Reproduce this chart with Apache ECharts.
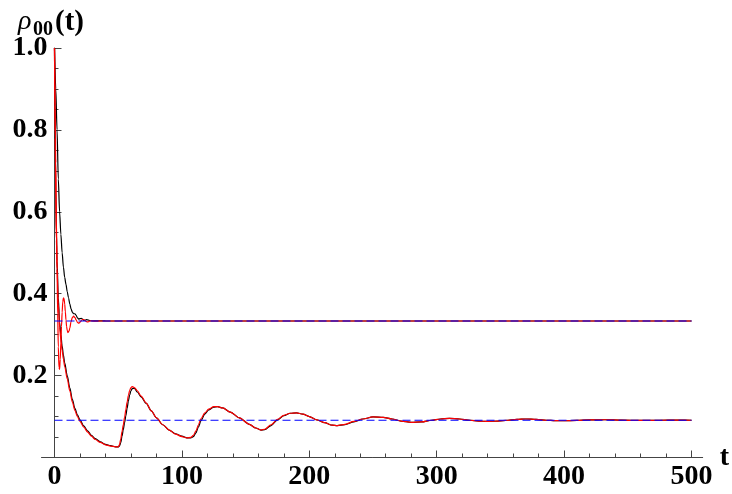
<!DOCTYPE html>
<html>
<head>
<meta charset="utf-8">
<script src="https://cdn.jsdelivr.net/npm/echarts@6/dist/echarts.min.js"></script>
<style>
  html, body { margin: 0; padding: 0; background: #fff; }
  #chart { width: 732px; height: 494px; }
</style>
</head>
<body>
<div id="chart"></div>
<script>
  // upper pair of curves (fast decay to 1/3)
  var tUpperBlack = [0, 1, 2, 3, 4, 5, 6, 7, 8, 9, 10, 11, 12, 13, 14, 15, 16, 17, 18, 19, 20, 21, 22, 23, 24, 25, 26, 28, 30, 34, 40, 500];
  var vUpperBlack = [1.0, 0.9, 0.8, 0.68, 0.6, 0.545, 0.5, 0.465, 0.44, 0.423, 0.405, 0.39, 0.375, 0.363, 0.355, 0.351, 0.351, 0.347, 0.341, 0.338, 0.339, 0.34, 0.338, 0.335, 0.335, 0.337, 0.336, 0.334, 0.3338, 0.3335, 0.3334, 0.3333];

  var tUpperRed = [0, 0.5, 1, 1.5, 2, 2.5, 3, 3.5, 4, 4.5, 5, 5.5, 6, 6.5, 7, 7.5, 8, 8.5, 9, 9.5, 10, 10.5, 11, 11.5, 12, 13, 14, 15, 16, 17, 18, 19, 20, 21, 22, 23, 24, 25, 26, 27, 28, 30, 32, 36, 500];
  var vUpperRed = [1.0, 0.86, 0.72, 0.58, 0.46, 0.35, 0.27, 0.22, 0.215, 0.24, 0.28, 0.32, 0.355, 0.38, 0.39, 0.388, 0.375, 0.356, 0.336, 0.32, 0.31, 0.305, 0.305, 0.309, 0.316, 0.332, 0.342, 0.345, 0.342, 0.336, 0.33, 0.328, 0.33, 0.334, 0.337, 0.337, 0.335, 0.332, 0.331, 0.332, 0.334, 0.3335, 0.333, 0.3333, 0.3333];

  // lower pair of curves (slow damped oscillation)
  var tLower = [0, 0.5, 1, 1.5, 2, 3, 4, 5, 6, 7, 8, 10, 12, 14, 16, 18, 20, 23, 26, 29, 32, 36, 40, 44, 48, 50, 51, 52, 53, 54, 55, 56, 57, 58, 59, 60, 61, 62, 63, 65, 68, 72, 76, 80, 85, 90, 95, 100, 104, 107, 109, 111, 113, 115, 118, 121, 125, 128, 132, 138, 145, 153, 158, 162, 165, 170, 175, 180, 185, 190, 195, 200, 206, 212, 218, 222, 228, 235, 242, 250, 258, 265, 272, 280, 288, 296, 303, 310, 318, 326, 333, 340, 348, 356, 363, 370, 378, 386, 393, 400, 410, 420, 432, 445, 460, 475, 490, 500];
  var vLowerBlack = [1.0, 0.8, 0.65, 0.55, 0.48, 0.39, 0.33, 0.3, 0.272, 0.25, 0.231, 0.2, 0.17, 0.142, 0.12, 0.104, 0.092, 0.077, 0.065, 0.054, 0.046, 0.038, 0.032, 0.029, 0.026, 0.026, 0.028, 0.036, 0.052, 0.068, 0.085, 0.102, 0.12, 0.138, 0.153, 0.163, 0.168, 0.169, 0.168, 0.16, 0.148, 0.132, 0.114, 0.097, 0.08, 0.067, 0.058, 0.052, 0.048, 0.048, 0.051, 0.06, 0.075, 0.09, 0.106, 0.116, 0.123, 0.124, 0.121, 0.111, 0.097, 0.081, 0.072, 0.067, 0.068, 0.078, 0.092, 0.102, 0.108, 0.109, 0.106, 0.1, 0.092, 0.085, 0.079, 0.078, 0.08, 0.087, 0.094, 0.099, 0.098, 0.094, 0.089, 0.086, 0.087, 0.091, 0.094, 0.0955, 0.094, 0.091, 0.089, 0.088, 0.089, 0.091, 0.093, 0.094, 0.093, 0.091, 0.09, 0.0898, 0.0905, 0.0918, 0.0922, 0.0912, 0.0905, 0.091, 0.0912, 0.091];
  var vLowerRed = [1.0, 0.78, 0.63, 0.53, 0.46, 0.375, 0.318, 0.288, 0.262, 0.24, 0.222, 0.192, 0.163, 0.136, 0.115, 0.1, 0.088, 0.074, 0.062, 0.052, 0.044, 0.037, 0.031, 0.028, 0.026, 0.026, 0.031, 0.045, 0.063, 0.08, 0.098, 0.117, 0.135, 0.152, 0.164, 0.171, 0.173, 0.172, 0.17, 0.163, 0.15, 0.133, 0.114, 0.097, 0.08, 0.067, 0.057, 0.051, 0.048, 0.049, 0.054, 0.065, 0.08, 0.095, 0.109, 0.118, 0.124, 0.124, 0.121, 0.111, 0.097, 0.081, 0.072, 0.067, 0.069, 0.08, 0.093, 0.103, 0.108, 0.109, 0.106, 0.1, 0.092, 0.085, 0.079, 0.078, 0.081, 0.088, 0.094, 0.099, 0.098, 0.094, 0.089, 0.086, 0.087, 0.091, 0.094, 0.0955, 0.094, 0.091, 0.089, 0.088, 0.089, 0.091, 0.093, 0.094, 0.093, 0.091, 0.09, 0.0898, 0.0905, 0.0918, 0.0922, 0.0912, 0.0905, 0.091, 0.0912, 0.091];

  // steady state levels (dashed)
  var tSteady = [0, 500];
  var vSteadyUpper = [0.3333, 0.3333];
  var vSteadyLower = [0.091, 0.091];

  var yTicks = [0, 0.2, 0.4, 0.6, 0.8, 1.0];
  var xTicks = [0, 100, 200, 300, 400, 500];

  function pairs(t, v) {
    return t.map(function (x, i) { return [x, v[i]]; });
  }

  var chart = echarts.init(document.getElementById('chart'));
  var axisColor = '#444';
  var serif = '"Liberation Serif", "DejaVu Serif", serif';

  function lineSeries(t, v, color, dashed) {
    return {
      type: 'line',
      xAxisIndex: 0,
      yAxisIndex: 0,
      data: pairs(t, v),
      showSymbol: false,
      smooth: dashed ? false : 0.3,
      smoothMonotone: 'x',
      silent: true,
      animation: false,
      lineStyle: { color: color, width: 1.2, type: dashed ? [8, 4] : 'solid' },
      z: dashed ? 5 : (color === '#ff0000' ? 4 : 3)
    };
  }

  var option = {
    animation: false,
    backgroundColor: '#fff',
    grid: [
      { left: 54.5, right: 40.5, top: 48, bottom: 36.5 },
      { left: 41.5, right: 28, top: 48, bottom: 36.5 }
    ],
    xAxis: [
      {
        gridIndex: 0,
        type: 'value',
        min: xTicks[0],
        max: xTicks[xTicks.length - 1],
        interval: 100,
        axisLine: { show: false },
        axisTick: { show: true, inside: true, length: 7, lineStyle: { color: axisColor } },
        minorTick: { show: true, splitNumber: 5, length: 4, lineStyle: { color: axisColor } },
        splitLine: { show: false },
        axisLabel: {
          margin: 5,
          fontFamily: serif, fontWeight: 'bold', fontSize: 28, color: '#000'
        }
      },
      {
        gridIndex: 1,
        type: 'value',
        min: 0,
        max: 1,
        axisLine: { show: true, lineStyle: { color: axisColor, width: 1 } },
        axisTick: { show: false },
        axisLabel: { show: false },
        splitLine: { show: false },
        name: 't',
        nameLocation: 'end',
        nameGap: 17,
        nameTextStyle: { fontFamily: serif, fontWeight: 'bold', fontSize: 28, color: '#000' }
      }
    ],
    yAxis: [
      {
        gridIndex: 0,
        type: 'value',
        min: yTicks[0],
        max: yTicks[yTicks.length - 1],
        interval: 0.2,
        axisLine: { show: true, lineStyle: { color: axisColor, width: 1 } },
        axisTick: { show: true, inside: true, length: 7, lineStyle: { color: axisColor } },
        minorTick: { show: true, splitNumber: 4, length: 4, lineStyle: { color: axisColor } },
        splitLine: { show: false },
        axisLabel: {
          margin: 7,
          showMinLabel: false,
          fontFamily: serif, fontWeight: 'bold', fontSize: 28, color: '#000',
          formatter: function (v) { return v.toFixed(1); }
        }
      },
      {
        gridIndex: 1,
        type: 'value',
        min: 0,
        max: 1,
        show: false
      }
    ],
    graphic: [
      {
        type: 'text', left: 18, top: 8, silent: true,
        style: { text: 'ρ', font: 'italic 28px ' + serif, fill: '#000' }
      },
      {
        type: 'text', left: 33, top: 20, silent: true,
        style: { text: '00', font: 'bold 20px ' + serif, fill: '#000' }
      },
      {
        type: 'text', left: 55, top: 8, silent: true,
        style: { text: '(t)', font: 'bold 29px ' + serif, fill: '#000' }
      }
    ],
    series: [
      lineSeries(tUpperBlack, vUpperBlack, '#000000', false),
      lineSeries(tLower, vLowerBlack, '#000000', false),
      lineSeries(tUpperRed, vUpperRed, '#ff0000', false),
      lineSeries(tLower, vLowerRed, '#ff0000', false),
      lineSeries(tSteady, vSteadyUpper, '#0000ff', true),
      lineSeries(tSteady, vSteadyLower, '#0000ff', true)
    ]
  };

  chart.setOption(option);
</script>
</body>
</html>
